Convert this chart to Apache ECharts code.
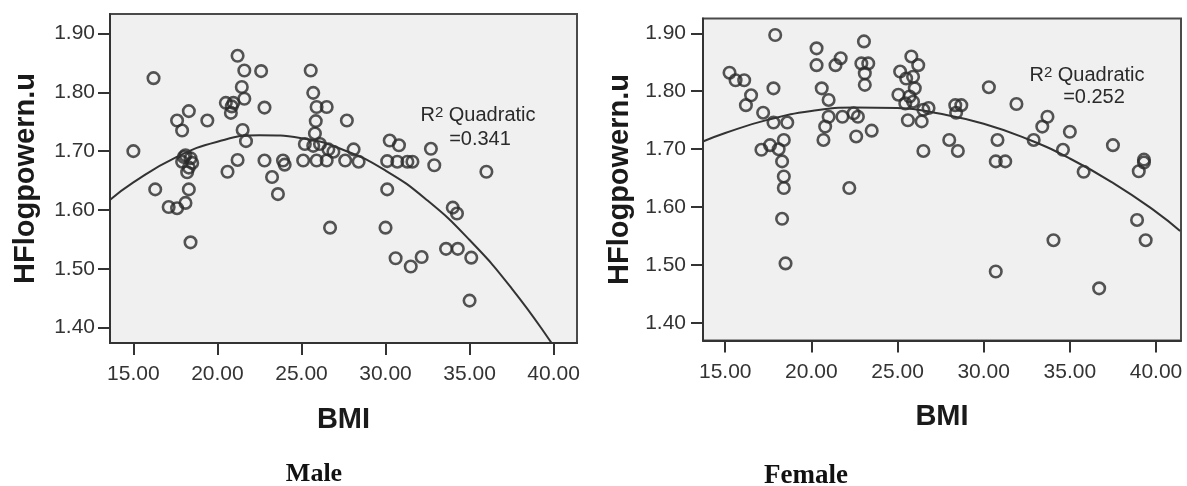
<!DOCTYPE html>
<html>
<head>
<meta charset="utf-8">
<script src="https://cdn.jsdelivr.net/npm/echarts@6/dist/echarts.min.js"></script>
<style>html,body{margin:0;padding:0;background:#fff}#c{width:1187px;height:486px}</style>
</head>
<body>
<div id="c"></div>
<script>
// ---- tick labels ----
const xTicks = [15, 20, 25, 30, 35, 40];
const yTicks = [1.40, 1.50, 1.60, 1.70, 1.80, 1.90];

// ---- Male ----
const maleBMI = [15.0,16.2,16.3,17.1,17.6,17.6,17.9,18.3,19.4,18.1,18.4,17.9,18.2,18.5,18.3,18.1,18.4,18.0,18.3,
  21.2,21.6,22.6,21.45,21.6,20.5,20.95,20.8,20.85,22.8,21.5,21.7,21.2,20.6,22.8,23.9,23.25,23.6,24.0,
  25.55,25.7,25.9,26.5,25.85,27.7,25.8,25.2,25.7,26.1,26.6,26.9,28.1,25.1,25.9,26.5,27.6,28.4,
  30.25,30.8,30.1,30.7,31.3,31.6,32.7,32.9,36.0,30.1,34.0,34.25,26.7,30.0,33.6,34.3,35.1,35.0,30.6,31.5,32.15];
const maleHF = [1.700,1.824,1.635,1.605,1.603,1.752,1.735,1.768,1.752,1.693,1.688,1.682,1.664,1.680,1.635,1.612,1.545,1.690,1.672,
  1.862,1.837,1.836,1.809,1.789,1.782,1.782,1.765,1.776,1.774,1.736,1.717,1.685,1.665,1.684,1.684,1.656,1.627,1.677,
  1.837,1.799,1.775,1.775,1.751,1.752,1.730,1.712,1.709,1.712,1.703,1.699,1.703,1.684,1.684,1.684,1.684,1.682,
  1.718,1.710,1.683,1.682,1.682,1.682,1.704,1.676,1.665,1.635,1.604,1.594,1.570,1.570,1.534,1.534,1.519,1.446,1.518,1.504,1.520];

// ---- Female ----
const femaleBMI = [15.25,15.6,16.1,16.5,16.2,17.2,17.9,17.8,17.8,18.6,17.1,17.6,18.1,18.4,18.3,18.4,18.4,18.3,18.5,
  20.3,20.3,21.4,21.7,20.6,21.0,21.0,20.8,20.7,21.8,22.45,22.7,22.6,23.5,22.2,23.05,22.9,23.3,23.1,23.1,
  25.8,26.2,25.15,25.5,25.9,26.0,25.05,25.7,25.45,25.9,25.6,26.4,26.5,26.8,26.5,28.0,28.5,28.35,28.7,28.4,
  30.3,30.8,30.7,31.25,31.9,32.9,33.4,33.7,35.0,34.6,35.8,37.5,39.3,39.3,39.0,38.9,34.05,39.4,30.7,36.7];
const femaleHF = [1.832,1.819,1.819,1.793,1.776,1.763,1.897,1.805,1.746,1.746,1.699,1.707,1.700,1.716,1.679,1.653,1.633,1.580,1.503,
  1.874,1.845,1.845,1.857,1.805,1.785,1.756,1.739,1.716,1.756,1.762,1.756,1.722,1.732,1.633,1.886,1.848,1.848,1.831,1.811,
  1.860,1.845,1.834,1.822,1.825,1.805,1.794,1.791,1.779,1.782,1.750,1.748,1.768,1.771,1.697,1.716,1.697,1.776,1.776,1.763,
  1.807,1.716,1.679,1.679,1.778,1.716,1.739,1.756,1.730,1.699,1.661,1.707,1.682,1.677,1.662,1.578,1.543,1.543,1.489,1.460];

// ---- quadratic fit curves ----
const fitBMI = [13.6,15,17.5,20,22.5,25,27.5,30,32.5,35,37.5,40,41.4];
const maleFit = [1.617,1.647,1.689,1.716,1.727,1.722,1.702,1.667,1.616,1.549,1.467,1.369,1.308];
const femaleFit = [1.712,1.728,1.751,1.766,1.772,1.771,1.761,1.744,1.718,1.684,1.642,1.592,1.559];

const zip = (a, b) => a.map((v, i) => [v, b[i]]);

const tickColor = '#333';
const labelFont = { fontFamily: 'Liberation Sans, Arial, sans-serif', fontSize: 21, color: '#333' };
const titleFont = { fontFamily: 'Liberation Sans, Arial, sans-serif', fontSize: 29, fontWeight: 'bold', color: '#1a1a1a' };

function xAx(idx, min, max) {
  return {
    type: 'value', gridIndex: idx, min: min, max: max,
    name: 'BMI', nameLocation: 'middle', nameGap: 62, nameTextStyle: titleFont,
    axisLine: { show: true, onZero: false, lineStyle: { color: tickColor, width: 2 } },
    axisTick: { show: true, length: 12, lineStyle: { color: tickColor, width: 2 }, customValues: xTicks },
    axisLabel: Object.assign({ margin: 21, customValues: xTicks, formatter: v => v.toFixed(2) }, labelFont),
    splitLine: { show: false }
  };
}
function yAx(idx, min, max, gap, lmargin) {
  return {
    type: 'value', gridIndex: idx, min: min, max: max,
    name: 'HFlogpowern.u', nameLocation: 'middle', nameGap: gap, nameTextStyle: titleFont,
    axisLine: { show: true, onZero: false, lineStyle: { color: tickColor, width: 2 } },
    axisTick: { show: true, length: 12, lineStyle: { color: tickColor, width: 2 }, customValues: yTicks },
    axisLabel: Object.assign({ margin: lmargin, customValues: yTicks, formatter: v => v.toFixed(2) }, labelFont),
    splitLine: { show: false }
  };
}

const scatterStyle = { color: 'rgba(0,0,0,0)', borderColor: '#2a2a2a', borderWidth: 2.6 };
const annFont = 'Liberation Sans, Arial, sans-serif';

function annotation(cx, y1, y2, cx2, r2) {
  return [
    { type: 'text', x: cx, y: y1, style: {
        text: '{a|R}{b|2}{a| Quadratic}', align: 'center', verticalAlign: 'middle',
        rich: { a: { fontFamily: annFont, fontSize: 20, fill: '#2a2a2a', color: '#2a2a2a' },
                b: { fontFamily: annFont, fontSize: 15, fill: '#2a2a2a', color: '#2a2a2a', verticalAlign: 'top' } } } },
    { type: 'text', x: cx2, y: y2, style: { text: '=' + r2, align: 'center', verticalAlign: 'middle',
        font: '20px ' + annFont, fill: '#2a2a2a' } }
  ];
}

const option = {
  animation: false,
  backgroundColor: '#ffffff',
  grid: [
    { left: 110, top: 14, width: 467, height: 329, show: true, backgroundColor: '#f0f0f0', borderColor: '#4a4a4a', borderWidth: 2 },
    { left: 703, top: 18.5, width: 478, height: 322, show: true, backgroundColor: '#f0f0f0', borderColor: '#4a4a4a', borderWidth: 2 }
  ],
  xAxis: [ xAx(0, 13.61, 41.39), xAx(1, 13.71, 41.45) ],
  yAxis: [ yAx(0, 1.374, 1.933, 70, 15), yAx(1, 1.370, 1.9255, 69, 17) ],
  series: [
    { type: 'scatter', xAxisIndex: 0, yAxisIndex: 0, data: zip(maleBMI, maleHF), symbol: 'circle', symbolSize: 11.5, itemStyle: scatterStyle },
    { type: 'line', xAxisIndex: 0, yAxisIndex: 0, data: zip(fitBMI, maleFit), smooth: true, showSymbol: false, clip: true,
      lineStyle: { color: '#333', width: 2 } },
    { type: 'scatter', xAxisIndex: 1, yAxisIndex: 1, data: zip(femaleBMI, femaleHF), symbol: 'circle', symbolSize: 11.5, itemStyle: scatterStyle },
    { type: 'line', xAxisIndex: 1, yAxisIndex: 1, data: zip(fitBMI, femaleFit), smooth: true, showSymbol: false, clip: true,
      lineStyle: { color: '#333', width: 2 } }
  ],
  graphic: [].concat(
    annotation(478, 115, 139, 480, '0.341'),
    annotation(1087, 75, 97, 1094, '0.252'),
    [
      { type: 'text', x: 314, y: 474, style: { text: 'Male', align: 'center', verticalAlign: 'middle',
          font: 'bold 26px "Liberation Serif", "Times New Roman", serif', fill: '#111' } },
      { type: 'text', x: 806, y: 476, style: { text: 'Female', align: 'center', verticalAlign: 'middle',
          font: 'bold 27px "Liberation Serif", "Times New Roman", serif', fill: '#111' } }
    ]
  )
};

const chart = echarts.init(document.getElementById('c'), null, { renderer: 'canvas' });
chart.setOption(option);
</script>
</body>
</html>
